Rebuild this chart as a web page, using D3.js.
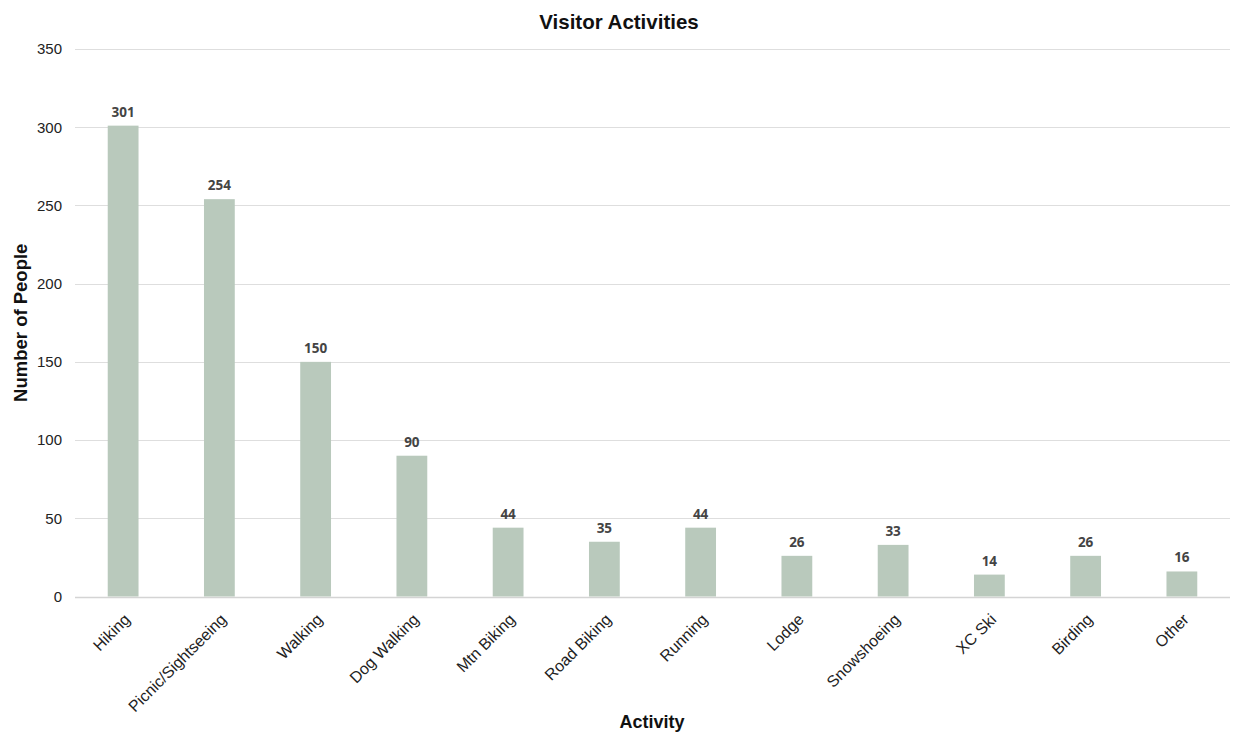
<!DOCTYPE html>
<html>
<head>
<meta charset="utf-8">
<script src="https://cdn.jsdelivr.net/npm/d3@7"></script>
<style>
  body { margin: 0; background: #fff; }
  svg { display: block; font-family: "Liberation Sans", Arial, sans-serif; }
</style>
</head>
<body>
<div id="chart"></div>
<script>
// data
const activities = ["Hiking", "Picnic/Sightseeing", "Walking", "Dog Walking", "Mtn Biking", "Road Biking",
  "Running", "Lodge", "Snowshoeing", "XC Ski", "Birding", "Other"];
const people = [301, 254, 150, 90, 44, 35, 44, 26, 33, 14, 26, 16];
const yTicks = [0, 50, 100, 150, 200, 250, 300, 350];

const W = 1233, H = 732;
const margin = {top: 49, right: 3, bottom: 135, left: 75};

const svg = d3.select("#chart").append("svg")
  .attr("width", W)
  .attr("height", H);

const x = d3.scaleBand()
  .domain(activities)
  .range([margin.left, W - margin.right])
  .paddingInner(0.68)
  .paddingOuter(0.34);

const y = d3.scaleLinear()
  .domain([0, 350])
  .range([H - margin.bottom - 0.5, margin.top]);

// gridlines
svg.append("g")
  .selectAll("line")
  .data(yTicks)
  .enter().append("line")
  .attr("x1", margin.left)
  .attr("x2", W - margin.right)
  .attr("y1", d => Math.round(y(d)) + 0.5)
  .attr("y2", d => Math.round(y(d)) + 0.5)
  .attr("stroke", d => d === 0 ? "#d4d4d4" : "#dedede")
  .attr("stroke-width", d => d === 0 ? 1.5 : 1);

// y axis labels
const yAxis = svg.append("g")
  .attr("transform", `translate(${margin.left - 13},0)`)
  .call(d3.axisLeft(y).tickValues(yTicks).tickSize(0).tickPadding(0));
yAxis.select(".domain").remove();
yAxis.selectAll("text")
  .attr("font-size", "15px")
  .attr("fill", "#222")
  .attr("font-family", "Liberation Sans, Arial, sans-serif");

// bars
svg.append("g")
  .selectAll("rect")
  .data(people)
  .enter().append("rect")
  .attr("x", (d, i) => x(activities[i]))
  .attr("y", d => y(d))
  .attr("width", x.bandwidth())
  .attr("height", d => y(0) - y(d))
  .attr("fill", "#b9c9bc");

// value labels
svg.append("g")
  .selectAll("text")
  .data(people)
  .enter().append("text")
  .attr("x", (d, i) => x(activities[i]) + x.bandwidth() / 2)
  .attr("y", d => y(d) - 9)
  .attr("text-anchor", "middle")
  .attr("font-family", "Open Sans, sans-serif")
  .attr("font-weight", "bold")
  .attr("font-size", "13.5px")
  .attr("fill", "#444")
  .text(d => d);

// x axis labels
const xAxis = svg.append("g")
  .attr("transform", `translate(0,${y(0)})`)
  .call(d3.axisBottom(x).tickSize(0).tickPadding(0));
xAxis.select(".domain").remove();
xAxis.selectAll("text")
  .attr("font-size", "16px")
  .attr("fill", "#222")
  .attr("font-family", "Liberation Sans, Arial, sans-serif")
  .attr("text-anchor", "end")
  .attr("dy", null)
  .attr("transform", "translate(8,24) rotate(-45)");

// titles
svg.append("text")
  .attr("x", 619)
  .attr("y", 29)
  .attr("text-anchor", "middle")
  .attr("font-weight", "bold")
  .attr("font-size", "20.5px")
  .attr("fill", "#111")
  .text("Visitor Activities");

svg.append("text")
  .attr("transform", `translate(27,${(y(0) + y(350)) / 2}) rotate(-90)`)
  .attr("text-anchor", "middle")
  .attr("font-weight", "bold")
  .attr("font-size", "18.5px")
  .attr("fill", "#111")
  .text("Number of People");

svg.append("text")
  .attr("x", 652)
  .attr("y", 728)
  .attr("text-anchor", "middle")
  .attr("font-weight", "bold")
  .attr("font-size", "18px")
  .attr("fill", "#111")
  .text("Activity");
</script>
</body>
</html>
